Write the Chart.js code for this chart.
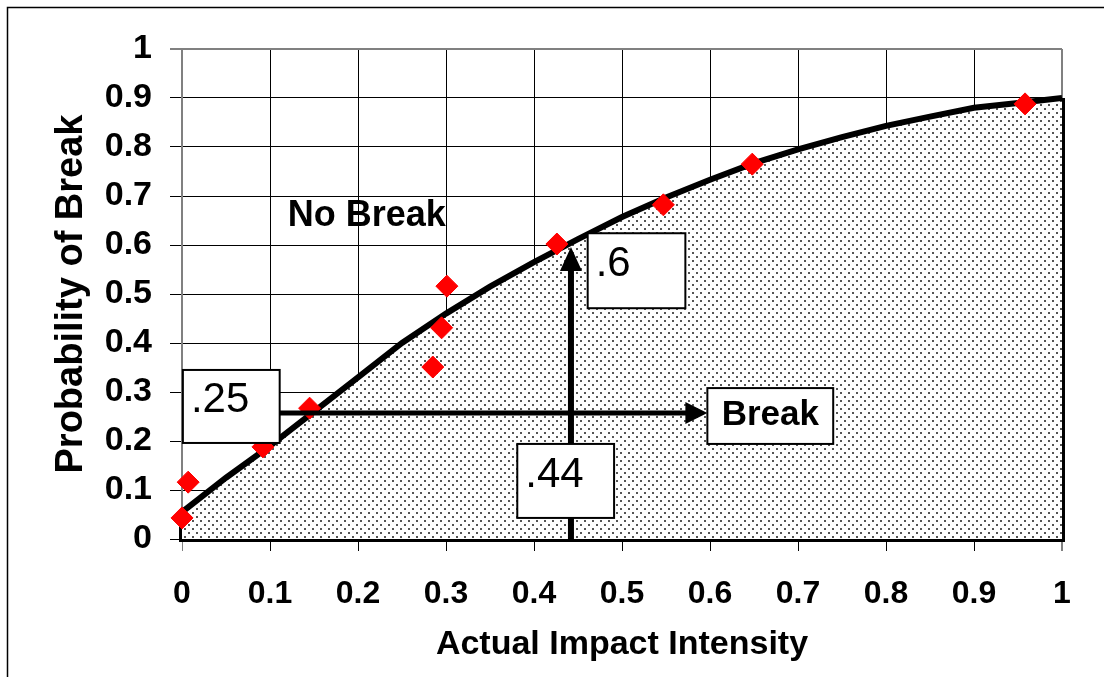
<!DOCTYPE html>
<html>
<head>
<meta charset="utf-8">
<script src="https://cdn.jsdelivr.net/npm/chart.js@4"></script>
<style>
  html, body { margin: 0; padding: 0; background: #fff; }
  canvas { display: block; }
</style>
</head>
<body>
<canvas id="chart" width="1104" height="677"></canvas>
<script>
// fitted curve of probability of break vs impact intensity
const curveX = [0, 0.05, 0.1, 0.15, 0.2, 0.25, 0.3, 0.35, 0.4, 0.45, 0.5, 0.55, 0.6, 0.65, 0.7, 0.75, 0.8, 0.85, 0.9, 0.95, 1];
const curveY = [0.055, 0.125, 0.19, 0.26, 0.33, 0.40, 0.46, 0.515, 0.565, 0.612, 0.657, 0.697, 0.733, 0.767, 0.795, 0.82, 0.843, 0.862, 0.88, 0.89, 0.90];

// observed points (red diamonds)
const pointX = [0.0, 0.007, 0.092, 0.145, 0.285, 0.295, 0.301, 0.426, 0.547, 0.648, 0.958];
const pointY = [0.043, 0.116, 0.188, 0.267, 0.351, 0.431, 0.516, 0.602, 0.682, 0.765, 0.888];

const xTickLabels = ['0', '0.1', '0.2', '0.3', '0.4', '0.5', '0.6', '0.7', '0.8', '0.9', '1'];
const yTickLabels = ['0', '0.1', '0.2', '0.3', '0.4', '0.5', '0.6', '0.7', '0.8', '0.9', '1'];

// worked example
const readLabels = ['.25', '.44', '.6'];
const readIntensity = 0.442;
const readLow = 0.257;
const readHigh = 0.596;

const FONT = "'Liberation Sans', Arial, sans-serif";

// dotted fill for the "Break" region
const tile = document.createElement('canvas');
tile.width = 8; tile.height = 8;
const tc = tile.getContext('2d');
tc.fillStyle = '#fff';
tc.fillRect(0, 0, 8, 8);
tc.fillStyle = '#555';
tc.fillRect(0, 0, 2, 2);
tc.fillRect(4, 4, 2, 2);
const dots = tc.createPattern(tile, 'repeat');

const curve = curveX.map((x, i) => ({x, y: curveY[i]}));
const last = curve[curve.length - 1], first = curve[0];
const outline = [last, {x: last.x, y: 0}, {x: first.x, y: 0}, first];

const frame = {
  id: 'frame',
  beforeDraw(chart) {
    const c = chart.ctx;
    c.save();
    c.fillStyle = '#fff';
    c.fillRect(0, 0, chart.width, chart.height);
    c.strokeStyle = '#000';
    c.lineWidth = 1.5;
    c.strokeRect(7.5, 7.5, chart.width, chart.height);
    c.restore();
  }
};

const notes = {
  id: 'notes',
  afterDatasetsDraw(chart) {
    const c = chart.ctx;
    const px = v => chart.scales.x.getPixelForValue(v);
    const py = v => chart.scales.y.getPixelForValue(v);
    c.save();
    c.fillStyle = '#000';
    c.strokeStyle = '#000';

    // horizontal arrow to "Break"
    const hy = py(readLow), tipX = px(0.597);
    c.lineWidth = 5;
    c.beginPath(); c.moveTo(px(0.05), hy); c.lineTo(tipX - 18, hy); c.stroke();
    c.beginPath(); c.moveTo(tipX, hy); c.lineTo(tipX - 22, hy - 11); c.lineTo(tipX - 22, hy + 11); c.closePath(); c.fill();

    // vertical arrow up to the curve
    const vx = px(readIntensity), tipY = py(readHigh);
    c.lineWidth = 6;
    c.beginPath(); c.moveTo(vx, py(0)); c.lineTo(vx, tipY + 18); c.stroke();
    c.beginPath(); c.moveTo(vx, tipY); c.lineTo(vx - 11, tipY + 24); c.lineTo(vx + 11, tipY + 24); c.closePath(); c.fill();

    // label boxes
    const boxes = [
      [readLabels[0], 0.001, 0.111, 0.345, 0.196, false],
      [readLabels[1], 0.381, 0.491, 0.194, 0.043, false],
      [readLabels[2], 0.461, 0.572, 0.624, 0.471, false],
      ['Break', 0.597, 0.740, 0.308, 0.194, true]
    ];
    boxes.forEach(([t, x0, x1, y0, y1, bold]) => {
      const l = px(x0), r = px(x1), tp = py(y0), b = py(y1);
      c.fillStyle = '#fff';
      c.fillRect(l, tp, r - l, b - tp);
      c.lineWidth = 2;
      c.strokeRect(l, tp, r - l, b - tp);
      c.fillStyle = '#000';
      c.textBaseline = 'middle';
      if (bold) {
        c.font = 'bold 35px ' + FONT;
        c.textAlign = 'center';
        c.fillText(t, (l + r) / 2, (tp + b) / 2 - 1);
      } else {
        c.font = '42px ' + FONT;
        c.textAlign = 'left';
        c.fillText(t, l + 8, (tp + b) / 2 - 6);
      }
    });

    c.font = 'bold 36px ' + FONT;
    c.textAlign = 'center';
    c.textBaseline = 'middle';
    c.fillText('No Break', px(0.210), py(0.66));
    c.restore();
  }
};

const edge = v => Math.abs(v - 1) < 1e-9;

new Chart(document.getElementById('chart'), {
  type: 'line',
  data: {
    datasets: [
      {
        data: pointX.map((x, i) => ({x, y: pointY[i]})),
        showLine: false,
        pointStyle: 'rectRot',
        pointRadius: 11,
        pointBackgroundColor: '#ff0000',
        pointBorderColor: '#ff0000',
        pointBorderWidth: 1,
        borderColor: '#ff0000',
        clip: false
      },
      {
        data: curve,
        borderColor: '#000',
        borderWidth: 6,
        pointRadius: 0,
        tension: 0,
        fill: 'origin',
        backgroundColor: dots
      },
      {
        data: outline,
        borderColor: '#000',
        borderWidth: 6,
        pointRadius: 0,
        tension: 0,
        fill: false,
        clip: false
      }
    ]
  },
  options: {
    responsive: false,
    animation: false,
    events: [],
    layout: { padding: { top: 49, right: 42, left: 0, bottom: 0 } },
    plugins: {
      legend: { display: false },
      tooltip: { enabled: false }
    },
    scales: {
      x: {
        type: 'linear',
        min: 0,
        max: 1,
        afterFit: s => { s.height = 138; },
        ticks: {
          stepSize: 0.1,
          autoSkip: false,
          maxRotation: 0,
          padding: 24,
          color: '#000',
          font: { family: FONT, size: 32, weight: 'bold' },
          callback: (v, i) => xTickLabels[i]
        },
        grid: {
          color: c => (c.tick && (edge(c.tick.value) || c.tick.value === 0)) ? '#808080' : '#000',
          lineWidth: c => (c.tick && edge(c.tick.value)) ? 2 : 1,
          tickLength: 12
        },
        border: { display: false },
        title: {
          display: true,
          text: 'Actual Impact Intensity',
          color: '#000',
          font: { family: FONT, size: 34, weight: 'bold' },
          padding: { top: 0, bottom: 12 }
        }
      },
      y: {
        type: 'linear',
        min: 0,
        max: 1,
        afterFit: s => { s.width = 182; },
        ticks: {
          stepSize: 0.1,
          autoSkip: false,
          padding: 18,
          color: '#000',
          font: { family: FONT, size: 34, weight: 'bold' },
          callback: (v, i) => yTickLabels[i]
        },
        grid: {
          color: c => (c.tick && edge(c.tick.value)) ? '#808080' : '#000',
          lineWidth: c => (c.tick && edge(c.tick.value)) ? 2 : 1,
          tickLength: 12
        },
        border: { display: true, color: '#808080', width: 2 },
        title: {
          display: true,
          text: 'Probability of Break',
          color: '#000',
          font: { family: FONT, size: 38, weight: 'bold' },
          padding: { top: 49, bottom: 0 }
        }
      }
    }
  },
  plugins: [frame, notes]
});
</script>
</body>
</html>
